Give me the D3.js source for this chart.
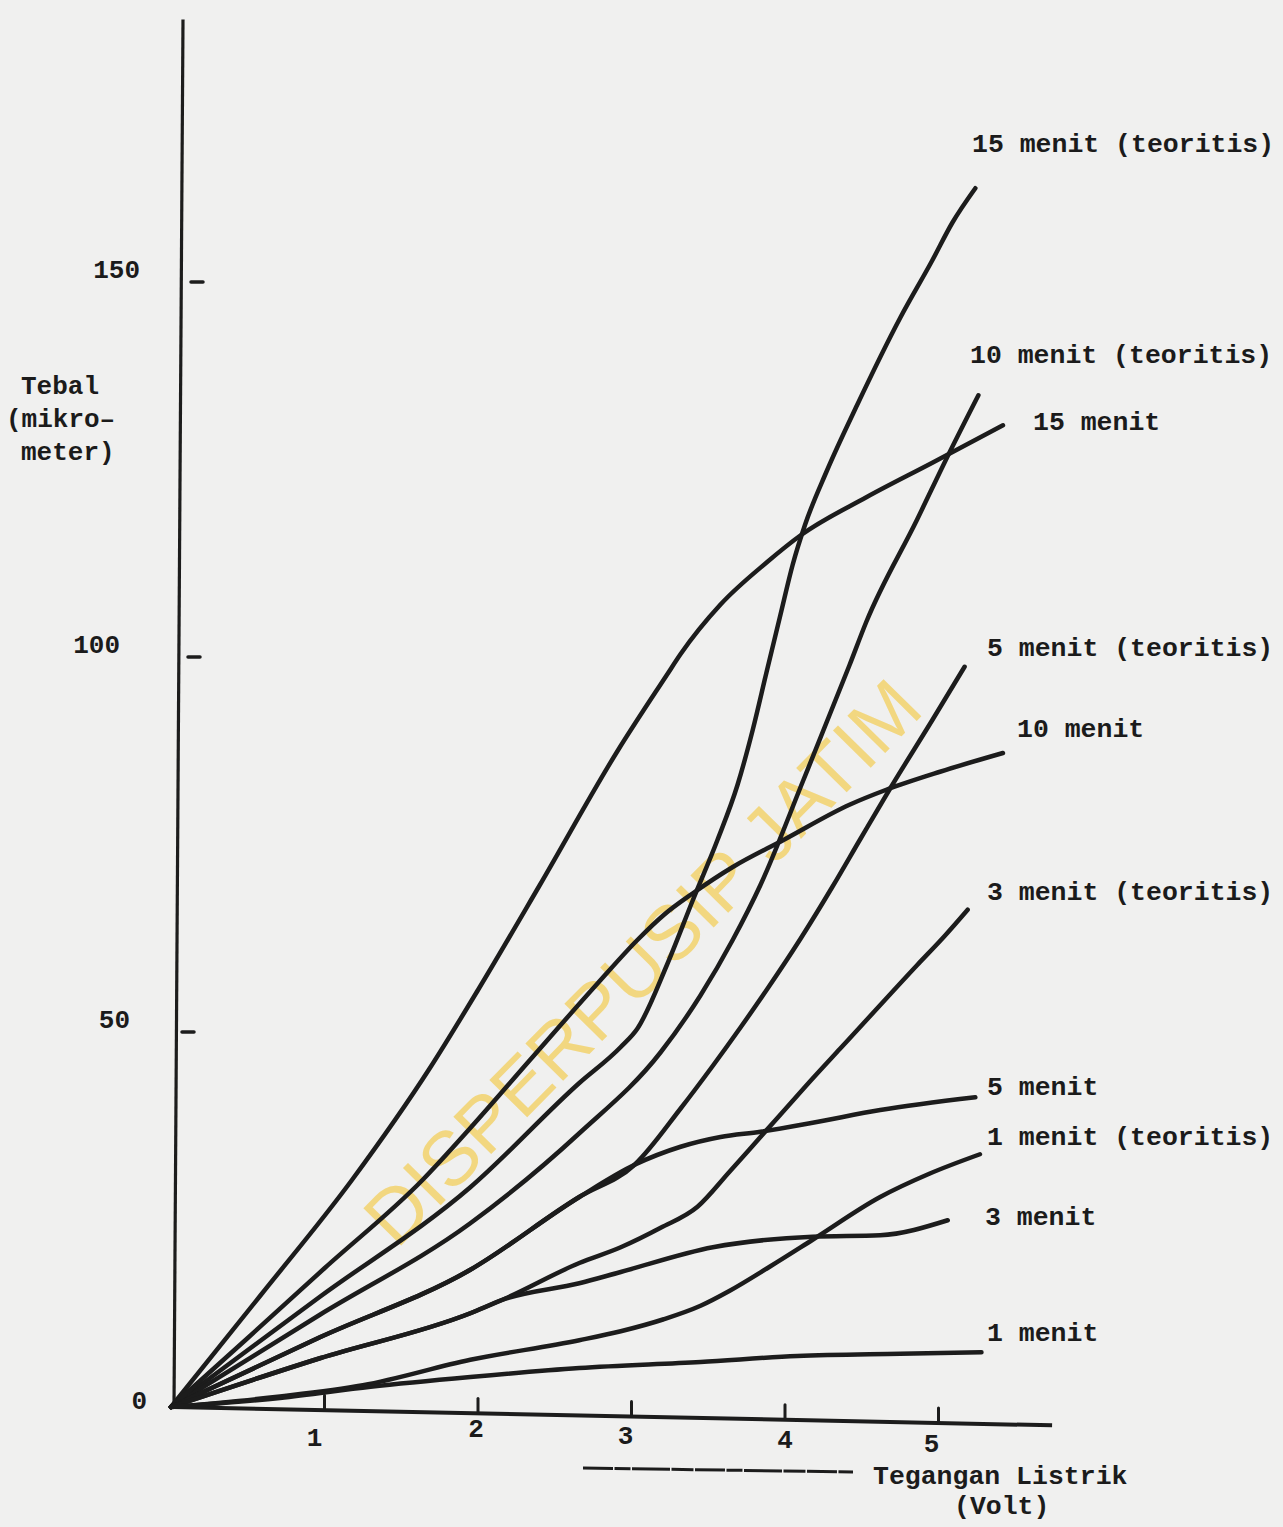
<!DOCTYPE html>
<html lang="id">
<head>
<meta charset="utf-8">
<title>Tebal lapisan vs Tegangan Listrik</title>
<script src="https://d3js.org/d3.v7.min.js"></script>
<style>
  body { margin: 0; background: #f0f0ef; }
  svg text { font-family: "Liberation Mono", "DejaVu Sans Mono", monospace; font-weight: bold; fill: #1b1b1b; }
</style>
</head>
<body>
<div id="chart"></div>
<script>
// ticks
var xTicks = [1, 2, 3, 4, 5];
var yTicks = [0, 50, 100, 150];

// curves as [volt, mikrometer]
var teor15 = [[0,0],[0.97,14.7],[1.95,29.3],[2.66,43.2],[2.93,48.0],[3.04,50.5],[3.23,58.9],[3.40,67.6],[3.56,75.6],[3.69,82.9],[3.79,90.3],[3.88,98.0],[3.97,105.6],[4.05,112.3],[4.13,117.6],[4.27,124.7],[4.47,133.6],[4.75,145.2],[4.96,152.9],[5.09,157.9],[5.24,162.5]];
var teor10 = [[0,0],[0.97,12.3],[1.95,24.5],[2.66,36.5],[3.19,47.3],[3.45,54.9],[3.66,62.3],[3.84,69.6],[4.12,83.6],[4.42,98.9],[4.53,104.7],[4.86,118.3],[5.07,127.2],[5.26,134.9]];
var ukur15 = [[0,0],[0.58,14.8],[1.18,30.3],[1.69,45.3],[2.00,55.6],[2.40,69.5],[2.91,87.5],[3.23,97.6],[3.32,100.4],[3.58,107.0],[3.88,112.6],[4.10,116.2],[4.53,121.3],[4.96,125.9],[5.42,130.9]];
var teor5 = [[0,0],[0.97,9.3],[1.95,18.3],[2.66,28.0],[3.02,32.3],[3.32,39.8],[3.53,45.5],[3.71,50.6],[3.88,55.6],[4.10,62.4],[4.31,69.4],[4.49,75.7],[4.68,82.3],[4.96,91.6],[5.17,98.7]];
var ukur10 = [[0,0],[0.50,9.2],[1.00,18.5],[1.64,30.3],[1.95,37.2],[2.34,46.3],[2.78,56.5],[3.04,62.3],[3.21,65.6],[3.40,68.5],[3.66,72.0],[3.99,75.6],[4.42,80.3],[4.66,82.3],[5.01,84.7],[5.42,87.2]];
var teor3 = [[0,0],[0.97,6.5],[1.95,12.5],[2.16,14.3],[2.66,19.2],[2.93,21.3],[3.19,23.9],[3.43,26.7],[3.64,31.4],[3.84,36.0],[4.01,39.9],[4.18,43.8],[4.36,47.8],[4.54,51.8],[4.86,58.9],[5.04,62.8],[5.19,66.3]];
var ukur5 = [[0,0],[0.97,9.3],[1.95,18.3],[2.66,28.0],[3.02,32.3],[3.32,34.7],[3.58,36.0],[3.84,36.7],[4.18,37.9],[4.62,39.6],[5.24,41.3]];
var teor1 = [[0,0],[0.71,1.4],[1.25,2.9],[1.95,6.3],[2.66,8.9],[2.93,10.1],[3.21,11.7],[3.45,13.5],[3.64,15.5],[3.90,18.7],[4.18,22.3],[4.62,28.0],[4.94,31.1],[5.27,33.7]];
var ukur3 = [[0,0],[0.97,6.5],[1.95,12.5],[2.16,14.3],[2.66,16.5],[2.93,18.0],[3.53,21.3],[4.18,22.7],[4.62,22.9],[5.06,24.9]];
var ukur1 = [[0,0],[0.71,1.2],[1.30,2.7],[1.95,4.0],[2.66,5.2],[3.45,6.0],[4.08,6.8],[4.75,7.1],[5.28,7.3]];

var curves = [teor15, teor10, ukur15, teor5, ukur10, teor3, ukur5, teor1, ukur3, ukur1];
var curveNames = ["15 menit (teoritis)", "10 menit (teoritis)", "15 menit", "5 menit (teoritis)", "10 menit",
                  "3 menit (teoritis)", "5 menit", "1 menit (teoritis)", "3 menit", "1 menit"];

// where the typed labels sit on the page
var labelXY = [[972,152],[970,363],[1033,430],[987,656],[1017,737],[987,900],[987,1095],[987,1145],[985,1225],[987,1341]];

var width = 1283, height = 1527;

var svg = d3.select("#chart").append("svg")
    .attr("width", width)
    .attr("height", height);

svg.append("rect").attr("width", width).attr("height", height).attr("fill", "#f0f0ef");

var x = d3.scaleLinear().domain([0, 5]).range([171, 938.5]);
var y = d3.scaleLinear().domain([0, 150]).range([1407, 282]);

// x axis is drawn a little crooked, like the original
var tilt = 3.2;
var axisBase = function(v){ return y(0) + tilt * v; };

// watermark (behind the ink)
svg.append("text")
    .attr("transform", "translate(642,962) rotate(-45.5)")
    .attr("text-anchor", "middle")
    .attr("y", 27)
    .style("font-family", "'Liberation Sans', Arial, sans-serif")
    .style("font-weight", "normal")
    .style("font-size", "77px")
    .style("fill", "#f3cf5c")
    .style("opacity", 0.75)
    .text("DISPERPUSIP JATIM");

var ink = "#1c1c1c";

// y axis
svg.append("line")
    .attr("x1", x(0) + 3).attr("y1", y(0))
    .attr("x2", x(0) + 12).attr("y2", y(185))
    .attr("stroke", ink).attr("stroke-width", 3.2);

// x axis
svg.append("line")
    .attr("x1", x(0) + 2).attr("y1", axisBase(0))
    .attr("x2", x(5.74)).attr("y2", axisBase(5.74))
    .attr("stroke", ink).attr("stroke-width", 4);

// y ticks: short dashes right of the axis
var yTickOff = { 150: 11, 100: 8, 50: 2 };
svg.selectAll(".ytick")
    .data(yTicks.filter(function(d){ return d > 0; }))
    .enter().append("line")
    .attr("class", "ytick")
    .attr("x1", function(d){ return x(0) + 9 + yTickOff[d]; })
    .attr("x2", function(d){ return x(0) + 21 + yTickOff[d]; })
    .attr("y1", function(d){ return y(d); })
    .attr("y2", function(d){ return y(d); })
    .attr("stroke", ink).attr("stroke-width", 3.5).attr("stroke-linecap", "round");

var yLabelRight = { 0: 147, 50: 130, 100: 120, 150: 140 };
svg.selectAll(".ylab")
    .data(yTicks)
    .enter().append("text")
    .attr("class", "ylab")
    .attr("text-anchor", "end")
    .attr("x", function(d){ return yLabelRight[d]; })
    .attr("y", function(d){ return y(d) - (d === 0 ? -2 : 4); })
    .style("font-size", "26px")
    .text(function(d){ return d; });

// x ticks
svg.selectAll(".xtick")
    .data(xTicks)
    .enter().append("line")
    .attr("class", "xtick")
    .attr("x1", function(d){ return x(d); })
    .attr("x2", function(d){ return x(d); })
    .attr("y1", function(d){ return axisBase(d) - 2; })
    .attr("y2", function(d){ return axisBase(d) - 15; })
    .attr("stroke", ink).attr("stroke-width", 3).attr("stroke-linecap", "round");

var xLabelNudge = { 1: [-10, 0], 2: [-2, -12], 3: [-6, -9], 4: [0, -8], 5: [-7, -7] };
svg.selectAll(".xlab")
    .data(xTicks)
    .enter().append("text")
    .attr("class", "xlab")
    .attr("text-anchor", "middle")
    .attr("x", function(d){ return x(d) + xLabelNudge[d][0]; })
    .attr("y", function(d){ return axisBase(d) + 36 + xLabelNudge[d][1]; })
    .style("font-size", "26px")
    .text(function(d){ return d; });

// axis titles
var ytitle = svg.append("text").style("font-size", "26px");
ytitle.append("tspan").attr("x", 21).attr("y", 394).text("Tebal");
ytitle.append("tspan").attr("x", 6).attr("y", 427).text("(mikro\u2013");
ytitle.append("tspan").attr("x", 21).attr("y", 460).text("meter)");

svg.append("line")
    .attr("x1", 583).attr("y1", 1468)
    .attr("x2", 853).attr("y2", 1472)
    .attr("stroke", ink).attr("stroke-width", 3)
    .attr("stroke-dasharray", "30,1.5,16,1.5,38,1.5,22,1.5");

svg.append("text").attr("x", 873).attr("y", 1484).style("font-size", "26.5px").text("Tegangan Listrik");
svg.append("text").attr("x", 954).attr("y", 1514).style("font-size", "26.5px").text("(Volt)");

// curves
var line = d3.line()
    .x(function(d){ return x(d[0]); })
    .y(function(d){ return y(d[1]); })
    .curve(d3.curveMonotoneX);

svg.selectAll(".curve")
    .data(curves)
    .enter().append("path")
    .attr("class", "curve")
    .attr("d", line)
    .attr("fill", "none")
    .attr("stroke", ink)
    .attr("stroke-width", 4.5)
    .attr("stroke-linecap", "round")
    .attr("stroke-linejoin", "round");

// curve labels
svg.selectAll(".clab")
    .data(curveNames)
    .enter().append("text")
    .attr("class", "clab")
    .attr("x", function(d, i){ return labelXY[i][0]; })
    .attr("y", function(d, i){ return labelXY[i][1]; })
    .style("font-size", "26.5px")
    .text(function(d){ return d; });
</script>
</body>
</html>
